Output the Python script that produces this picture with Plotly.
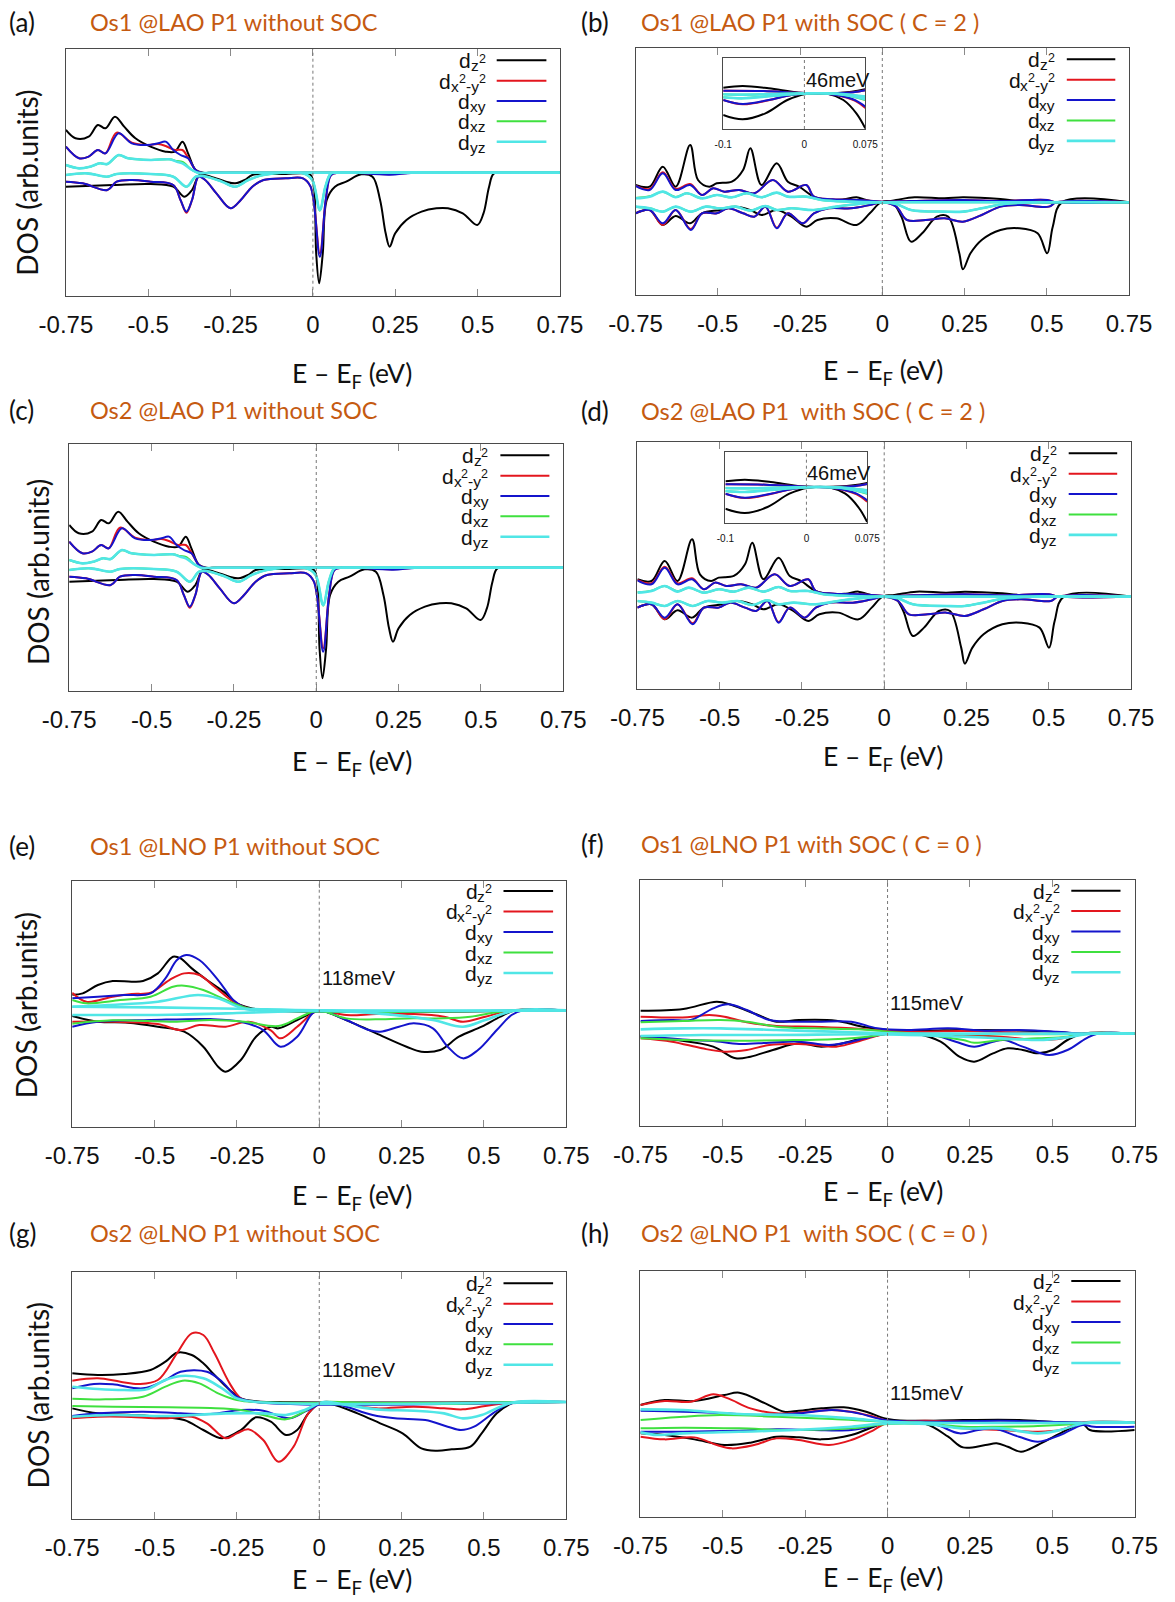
import plotly.graph_objects as go

W, H = 1175, 1602

# ---------------- tick labels / text ----------------
tick_vals = [-0.75, -0.5, -0.25, 0, 0.25, 0.5, 0.75]
tick_text = ["-0.75", "-0.5", "-0.25", "0", "0.25", "0.5", "0.75"]
inset_tick_vals = [-0.1, 0, 0.075]
inset_tick_text = ["-0.1", "0", "0.075"]

# legend labels built from pieces: (text, role) with role n / sub / sup
orbital_label_parts = [
    [("d", "n"), ("z", "sub"), ("2", "sup")],
    [("d", "n"), ("x", "sub"), ("2", "sup"), ("-y", "sub"), ("2", "sup")],
    [("d", "n"), ("xy", "sub")],
    [("d", "n"), ("xz", "sub")],
    [("d", "n"), ("yz", "sub")],
]
orbital_colors = ["#000000", "#e3161e", "#1414cc", "#3fe03f", "#50e6e6"]
orbital_widths = [2, 2, 2, 2, 2.6]

panel_letters = ["(a)", "(b)", "(c)", "(d)", "(e)", "(f)", "(g)", "(h)"]
panel_titles = ["Os1 @LAO P1 without SOC", "Os1 @LAO P1 with SOC ( C = 2 )",
                "Os2 @LAO P1 without SOC", "Os2 @LAO P1\u00a0 with SOC ( C = 2 )",
                "Os1 @LNO P1 without SOC", "Os1 @LNO P1 with SOC ( C = 0 )",
                "Os2 @LNO P1 without SOC", "Os2 @LNO P1\u00a0 with SOC ( C = 0 )"]
gap_labels = ["", "46meV", "", "46meV", "118meV", "115meV", "118meV", "115meV"]
x_title = "E \u2013 E<sub>F</sub> (eV)"
y_title = "DOS (arb.units)"

# ---------------- data: (E - EF [eV], DOS [arb.]) ----------------
# panel (a)  Os1 @LAO without SOC  (panel (c) shows the same curves)
a_dz2_up = [(-0.75,128),(-0.721,103),(-0.681,108),(-0.653,143),(-0.630,133),(-0.601,168),(-0.573,138),(-0.539,103),(-0.493,78),(-0.447,63),(-0.419,63),(-0.396,93),(-0.379,58),(-0.356,8),(-0.333,0),(-0.3,0),(0.75,0)]
a_dz2_dn = [(-0.75,-42),(-0.607,-37),(-0.493,-34),(-0.424,-42),(-0.39,-72),(-0.367,-52),(-0.344,-7),(-0.310,-12),(-0.264,-27),(-0.236,-32),(-0.207,-22),(-0.184,-7),(-0.082,-4),(-0.030,-2),(-0.007,-7),(0.003,-40),(0.010,-242),(0.019,-332),(0.030,-242),(0.042,-82),(0.067,-42),(0.101,-27),(0.147,-5),(0.181,-12),(0.204,-82),(0.221,-182),(0.233,-222),(0.250,-182),(0.284,-142),(0.330,-117),(0.375,-107),(0.410,-107),(0.455,-122),(0.499,-157),(0.518,-122),(0.535,-42),(0.550,-2),(0.6,0),(0.75,0)]
a_x2y2_up = [(-0.75,78),(-0.710,43),(-0.681,48),(-0.653,68),(-0.630,58),(-0.596,120),(-0.550,90),(-0.504,83),(-0.470,86),(-0.447,80),(-0.419,68),(-0.396,68),(-0.379,45),(-0.356,8),(-0.339,0),(-0.3,0),(0.75,0)]
a_x2y2_dn = [(-0.75,-27),(-0.699,-32),(-0.624,-52),(-0.596,-27),(-0.550,-22),(-0.493,-27),(-0.424,-37),(-0.402,-82),(-0.384,-120),(-0.367,-82),(-0.347,-12),(-0.327,-22),(-0.293,-62),(-0.250,-107),(-0.219,-82),(-0.184,-42),(-0.150,-22),(-0.082,-17),(-0.030,-17),(-0.007,-42),(0.021,-242),(0.039,-82),(0.055,-7),(0.078,0),(0.233,-5),(0.307,0),(0.75,0)]
a_dxy_up = [(-0.75,78),(-0.710,43),(-0.681,48),(-0.653,68),(-0.630,58),(-0.590,118),(-0.550,88),(-0.504,83),(-0.470,88),(-0.447,93),(-0.424,68),(-0.402,53),(-0.379,43),(-0.356,8),(-0.339,0),(-0.3,0),(0.75,0)]
a_dxy_dn = [(-0.75,-27),(-0.699,-32),(-0.624,-52),(-0.596,-27),(-0.550,-22),(-0.493,-27),(-0.424,-37),(-0.402,-82),(-0.384,-117),(-0.367,-82),(-0.347,-12),(-0.327,-22),(-0.293,-62),(-0.250,-107),(-0.219,-82),(-0.184,-42),(-0.150,-22),(-0.082,-17),(-0.030,-17),(-0.007,-42),(0.021,-252),(0.039,-82),(0.055,-7),(0.078,0),(0.233,-6),(0.307,0),(0.75,0)]
a_dxz_up = [(-0.75,23),(-0.710,13),(-0.676,18),(-0.647,28),(-0.624,26),(-0.590,52),(-0.561,43),(-0.493,38),(-0.436,40),(-0.413,35),(-0.396,32),(-0.367,8),(-0.350,0),(-0.3,0),(0.75,0)]
a_dxz_dn = [(-0.75,-7),(-0.687,-2),(-0.624,-12),(-0.596,-4),(-0.493,-4),(-0.424,-12),(-0.384,-42),(-0.356,-12),(-0.333,-10),(-0.276,-27),(-0.236,-42),(-0.196,-22),(-0.150,-7),(-0.030,-2),(-0.002,-22),(0.021,-114),(0.038,-42),(0.055,-2),(0.08,0),(0.75,0)]
a_dyz_up = [(-0.75,23),(-0.710,13),(-0.676,18),(-0.647,28),(-0.624,26),(-0.590,53),(-0.561,43),(-0.493,38),(-0.436,40),(-0.413,33),(-0.396,28),(-0.367,8),(-0.350,0),(-0.3,0),(0.75,0)]
a_dyz_dn = [(-0.75,-7),(-0.687,-2),(-0.624,-12),(-0.596,-4),(-0.493,-4),(-0.424,-12),(-0.384,-42),(-0.356,-12),(-0.333,-10),(-0.276,-27),(-0.236,-42),(-0.196,-22),(-0.150,-7),(-0.030,-2),(-0.002,-22),(0.021,-112),(0.038,-42),(0.055,-2),(0.08,0),(0.75,0)]

# panel (b)  Os1 @LAO with SOC  (panel (d) shows the same curves)
b_dz2_up = [(-0.75,52),(-0.707,47),(-0.667,107),(-0.628,47),(-0.584,172),(-0.560,67),(-0.526,47),(-0.503,57),(-0.457,62),(-0.423,97),(-0.401,162),(-0.367,52),(-0.321,117),(-0.287,62),(-0.253,47),(-0.208,17),(-0.163,7),(-0.117,9),(-0.078,15),(-0.049,7),(0.0,0),(0.042,7),(0.098,15),(0.189,12),(0.245,15),(0.359,10),(0.416,4),(0.472,0),(0.75,0)]
b_dz2_dn = [(-0.75,-33),(-0.707,-23),(-0.667,-68),(-0.628,-41),(-0.584,-63),(-0.548,-33),(-0.492,-23),(-0.446,-13),(-0.401,-23),(-0.367,-38),(-0.321,-23),(-0.276,-43),(-0.231,-73),(-0.197,-53),(-0.140,-48),(-0.078,-68),(-0.038,-33),(-0.004,0),(0.030,0),(0.058,-43),(0.087,-118),(0.121,-93),(0.166,-43),(0.200,-43),(0.234,-153),(0.245,-201),(0.268,-153),(0.302,-113),(0.359,-83),(0.416,-78),(0.472,-93),(0.501,-153),(0.518,-73),(0.546,0),(0.75,0)]
b_x2y2_up = [(-0.75,50),(-0.707,40),(-0.667,90),(-0.628,40),(-0.584,55),(-0.548,22),(-0.514,42),(-0.480,32),(-0.435,37),(-0.389,27),(-0.333,67),(-0.287,32),(-0.231,52),(-0.208,17),(-0.151,9),(-0.072,7),(0.0,2),(0.087,4),(0.245,7),(0.359,4),(0.501,7),(0.529,0),(0.75,0)]
b_x2y2_dn = [(-0.75,-33),(-0.707,-23),(-0.667,-68),(-0.628,-23),(-0.582,-80),(-0.548,-33),(-0.503,-33),(-0.469,-18),(-0.423,-33),(-0.389,-43),(-0.355,-13),(-0.321,-76),(-0.287,-33),(-0.242,-63),(-0.208,-33),(-0.163,-18),(-0.095,-18),(-0.038,-8),(0.0,0),(0.042,-13),(0.075,-53),(0.132,-53),(0.189,-48),(0.245,-58),(0.302,-38),(0.359,-13),(0.416,-8),(0.506,-13),(0.529,0),(0.75,0)]
b_dxy_up = [(-0.75,49),(-0.707,37),(-0.667,87),(-0.628,37),(-0.584,52),(-0.548,22),(-0.514,42),(-0.480,32),(-0.435,37),(-0.389,27),(-0.333,67),(-0.287,32),(-0.231,52),(-0.208,17),(-0.151,9),(-0.072,7),(0.0,2),(0.087,4),(0.245,7),(0.359,4),(0.501,7),(0.529,0),(0.75,0)]
b_dxy_dn = [(-0.75,-33),(-0.707,-23),(-0.667,-63),(-0.628,-23),(-0.582,-83),(-0.548,-33),(-0.503,-33),(-0.469,-18),(-0.423,-33),(-0.389,-43),(-0.355,-13),(-0.321,-78),(-0.287,-33),(-0.242,-63),(-0.208,-33),(-0.163,-18),(-0.095,-18),(-0.038,-8),(0.0,0),(0.042,-13),(0.075,-53),(0.132,-53),(0.189,-48),(0.245,-58),(0.302,-38),(0.359,-13),(0.416,-8),(0.506,-13),(0.529,0),(0.75,0)]
b_dxz_up = [(-0.75,13),(-0.707,18),(-0.667,32),(-0.628,16),(-0.594,27),(-0.548,12),(-0.503,22),(-0.457,15),(-0.412,27),(-0.367,15),(-0.321,29),(-0.287,17),(-0.231,17),(-0.185,7),(-0.095,2),(0.0,0),(0.75,0)]
b_dxz_dn = [(-0.75,-13),(-0.707,-18),(-0.667,-28),(-0.628,-13),(-0.582,-28),(-0.537,-13),(-0.492,-18),(-0.446,-13),(-0.401,-25),(-0.355,-11),(-0.321,-23),(-0.276,-18),(-0.208,-23),(-0.140,-13),(-0.072,-5),(0.0,0),(0.042,-5),(0.087,-23),(0.189,-28),(0.245,-28),(0.302,-18),(0.370,-5),(0.472,0),(0.75,0)]
b_dyz_up = [(-0.75,12),(-0.707,17),(-0.667,32),(-0.628,15),(-0.594,27),(-0.548,12),(-0.503,22),(-0.457,15),(-0.412,27),(-0.367,15),(-0.321,29),(-0.287,17),(-0.231,17),(-0.185,7),(-0.095,2),(0.0,0),(0.75,0)]
b_dyz_dn = [(-0.75,-13),(-0.707,-18),(-0.667,-28),(-0.628,-13),(-0.582,-28),(-0.537,-13),(-0.492,-18),(-0.446,-13),(-0.401,-25),(-0.355,-11),(-0.321,-23),(-0.276,-18),(-0.208,-23),(-0.140,-13),(-0.072,-5),(0.0,0),(0.042,-5),(0.087,-23),(0.189,-28),(0.245,-28),(0.302,-18),(0.370,-5),(0.472,0),(0.75,0)]

# inset of (b)/(d): zoom around EF
ins_dz2_up = [(-0.1,17),(-0.076,22),(-0.044,15),(-0.007,2),(0.021,0),(0.058,5),(0.075,12)]
ins_dz2_dn = [(-0.1,-65),(-0.076,-78),(-0.048,-60),(-0.021,-20),(0.002,-2),(0.030,-2),(0.048,-20),(0.064,-60),(0.075,-105)]
ins_x2y2_up = [(-0.1,8),(-0.05,7),(-0.01,2),(0.02,0),(0.06,3),(0.075,9)]
ins_x2y2_dn = [(-0.1,-20),(-0.076,-33),(-0.044,-21),(-0.016,-5),(0.012,0),(0.039,-5),(0.062,-22),(0.075,-44)]
ins_dxy_up = [(-0.1,8),(-0.05,7),(-0.01,2),(0.02,0),(0.06,3),(0.075,9)]
ins_dxy_dn = [(-0.1,-20),(-0.076,-32),(-0.044,-20),(-0.016,-5),(0.012,0),(0.039,-5),(0.062,-20),(0.075,-40)]
ins_dxz_up = [(-0.1,-3),(-0.076,-4),(-0.04,-2),(0.0,0),(0.04,-1),(0.075,-10)]
ins_dxz_dn = [(-0.1,-12),(-0.076,-15),(-0.04,-8),(-0.01,-2),(0.02,0),(0.05,-5),(0.075,-20)]
ins_dyz_up = [(-0.1,-3),(-0.076,-4),(-0.04,-2),(0.0,0),(0.04,-1),(0.075,-10)]
ins_dyz_dn = [(-0.1,-12),(-0.076,-15),(-0.04,-8),(-0.01,-2),(0.02,0),(0.05,-5),(0.075,-18)]

# panel (e)  Os1 @LNO without SOC
e_dz2_up = [(-0.75,47),(-0.718,51),(-0.672,76),(-0.627,88),(-0.569,86),(-0.535,88),(-0.490,111),(-0.444,161),(-0.421,156),(-0.387,126),(-0.341,91),(-0.284,51),(-0.250,21),(-0.204,6),(-0.147,0),(0.75,0)]
e_dz2_dn = [(-0.75,-17),(-0.672,-34),(-0.581,-37),(-0.490,-49),(-0.410,-64),(-0.352,-109),(-0.307,-169),(-0.284,-184),(-0.238,-149),(-0.192,-79),(-0.147,-49),(-0.124,-54),(-0.067,-29),(-0.021,-7),(0.0,0),(0.105,-39),(0.173,-69),(0.265,-109),(0.310,-124),(0.367,-119),(0.424,-79),(0.493,-49),(0.550,-19),(0.596,0),(0.75,0)]
e_x2y2_up = [(-0.75,53),(-0.707,26),(-0.627,41),(-0.569,49),(-0.512,53),(-0.455,91),(-0.410,111),(-0.364,106),(-0.318,71),(-0.261,26),(-0.215,6),(-0.170,0),(0.75,0)]
e_x2y2_dn = [(-0.75,-34),(-0.627,-34),(-0.490,-41),(-0.421,-59),(-0.364,-44),(-0.284,-49),(-0.215,-34),(-0.147,-60),(-0.118,-84),(-0.067,-49),(-0.021,-9),(0.0,0),(0.082,-14),(0.173,-11),(0.287,-11),(0.379,-19),(0.436,-34),(0.504,-19),(0.584,0),(0.75,0)]
e_dxy_up = [(-0.75,36),(-0.672,41),(-0.592,46),(-0.512,51),(-0.467,96),(-0.432,151),(-0.404,166),(-0.364,151),(-0.307,91),(-0.261,31),(-0.227,9),(-0.170,0),(0.75,0)]
e_dxy_dn = [(-0.75,-49),(-0.672,-34),(-0.512,-29),(-0.330,-26),(-0.238,-34),(-0.170,-59),(-0.118,-109),(-0.067,-79),(-0.021,-9),(0.0,0),(0.082,-29),(0.150,-59),(0.185,-64),(0.242,-49),(0.287,-39),(0.345,-54),(0.390,-109),(0.436,-144),(0.482,-119),(0.539,-59),(0.584,-14),(0.619,0),(0.75,0)]
e_dxz_up = [(-0.75,31),(-0.707,21),(-0.604,31),(-0.512,41),(-0.444,71),(-0.410,74),(-0.352,61),(-0.284,31),(-0.227,9),(-0.170,0),(0.75,0)]
e_dxz_dn = [(-0.75,-40),(-0.627,-30),(-0.432,-34),(-0.330,-29),(-0.227,-34),(-0.124,-47),(-0.067,-24),(-0.021,-4),(0.0,0),(0.082,-24),(0.173,-27),(0.287,-24),(0.379,-24),(0.459,-19),(0.527,-7),(0.584,0),(0.75,0)]
e_dyz_up = [(-0.75,11),(-0.641,16),(-0.490,26),(-0.368,46),(-0.307,36),(-0.247,11),(-0.216,3),(-0.15,0),(0.75,0)]
e_dyz_dn = [(-0.75,-14),(-0.45,-13),(-0.25,-8),(-0.1,-3),(0.0,0),(0.173,-9),(0.345,-29),(0.436,-49),(0.504,-29),(0.596,0),(0.75,0)]
e_dyz_flat = [(-0.75,11),(-0.5,9),(-0.25,5),(0.0,0),(0.75,0)]

# panel (f)  Os1 @LNO with SOC
f_dz2_up = [(-0.75,69),(-0.620,74),(-0.518,96),(-0.473,86),(-0.393,56),(-0.337,36),(-0.269,41),(-0.156,39),(-0.076,21),(0.003,11),(0.116,9),(0.229,11),(0.456,8),(0.569,1),(0.626,0),(0.75,0)]
f_dz2_dn = [(-0.75,-9),(-0.642,-19),(-0.529,-39),(-0.461,-74),(-0.416,-69),(-0.348,-49),(-0.269,-29),(-0.201,-39),(-0.144,-31),(-0.076,-14),(0.0,0),(0.093,-2),(0.161,-24),(0.218,-69),(0.263,-84),(0.320,-59),(0.365,-44),(0.410,-49),(0.456,-59),(0.501,-49),(0.546,-19),(0.592,0),(0.75,0)]
f_x2y2_up = [(-0.75,51),(-0.608,49),(-0.541,56),(-0.495,51),(-0.427,34),(-0.337,23),(-0.224,21),(-0.110,16),(0.003,9),(0.116,6),(0.229,8),(0.399,3),(0.512,0),(0.75,0)]
f_x2y2_dn = [(-0.75,-14),(-0.654,-24),(-0.563,-44),(-0.495,-54),(-0.427,-49),(-0.359,-34),(-0.269,-31),(-0.224,-34),(-0.156,-39),(-0.110,-29),(-0.042,-9),(0.0,0),(0.229,-4),(0.342,-9),(0.456,-19),(0.512,-17),(0.603,0),(0.75,0)]
f_dxy_up = [(-0.75,38),(-0.654,41),(-0.597,41),(-0.529,76),(-0.484,88),(-0.427,71),(-0.359,41),(-0.224,36),(-0.110,36),(-0.031,16),(0.059,11),(0.184,16),(0.297,9),(0.399,11),(0.512,6),(0.592,0),(0.75,0)]
f_dxy_dn = [(-0.75,-7),(-0.597,-19),(-0.529,-22),(-0.450,-31),(-0.359,-27),(-0.269,-24),(-0.178,-34),(-0.110,-24),(-0.042,-7),(0.0,0),(0.139,-4),(0.207,-24),(0.263,-39),(0.320,-24),(0.354,-19),(0.410,-39),(0.490,-64),(0.546,-49),(0.603,-14),(0.637,0),(0.75,0)]
f_dxz_up = [(-0.75,34),(-0.620,38),(-0.507,41),(-0.427,36),(-0.337,21),(-0.224,16),(-0.088,13),(0.003,6),(0.116,0),(0.75,0)]
f_dxz_dn = [(-0.75,-14),(-0.620,-19),(-0.450,-21),(-0.269,-19),(-0.167,-17),(-0.042,-7),(0.0,0),(0.116,-4),(0.229,-19),(0.263,-27),(0.342,-19),(0.456,-14),(0.546,-9),(0.614,0),(0.75,0)]
f_dyz_up = [(-0.75,13),(-0.620,16),(-0.507,16),(-0.337,11),(-0.167,6),(0.0,1),(0.116,0),(0.75,0)]
f_dyz_dn = [(-0.75,-7),(-0.563,-4),(-0.337,-4),(0.0,-2),(0.229,-9),(0.342,-14),(0.456,-19),(0.546,-11),(0.614,0),(0.75,0)]

# panel (g)  Os2 @LNO without SOC
g_dz2_up = [(-0.75,86),(-0.672,81),(-0.592,84),(-0.512,96),(-0.467,121),(-0.432,148),(-0.387,141),(-0.352,116),(-0.318,81),(-0.272,36),(-0.238,11),(-0.192,2),(-0.147,0),(0.75,0)]
g_dz2_dn = [(-0.75,-19),(-0.672,-34),(-0.569,-39),(-0.490,-44),(-0.410,-54),(-0.352,-84),(-0.295,-109),(-0.238,-84),(-0.192,-46),(-0.147,-59),(-0.101,-99),(-0.067,-84),(-0.033,-34),(0.002,-4),(0.036,-6),(0.116,-34),(0.185,-64),(0.253,-94),(0.310,-139),(0.356,-146),(0.402,-142),(0.459,-134),(0.493,-94),(0.539,-34),(0.584,-4),(0.607,0),(0.75,0)]
g_x2y2_up = [(-0.75,64),(-0.672,71),(-0.604,61),(-0.547,54),(-0.490,66),(-0.432,146),(-0.387,206),(-0.352,201),(-0.318,146),(-0.272,56),(-0.238,11),(-0.192,0),(0.75,0)]
g_x2y2_dn = [(-0.75,-49),(-0.672,-44),(-0.592,-44),(-0.467,-49),(-0.387,-44),(-0.341,-64),(-0.284,-109),(-0.250,-94),(-0.215,-82),(-0.170,-114),(-0.124,-179),(-0.078,-134),(-0.033,-34),(0.013,0),(0.082,-9),(0.173,-19),(0.287,-14),(0.379,-19),(0.436,-22),(0.504,-12),(0.596,0),(0.75,0)]
g_dxy_up = [(-0.75,41),(-0.684,54),(-0.627,53),(-0.535,41),(-0.467,66),(-0.421,91),(-0.341,91),(-0.295,61),(-0.250,16),(-0.192,0),(0.75,0)]
g_dxy_dn = [(-0.75,-42),(-0.672,-34),(-0.535,-29),(-0.421,-34),(-0.330,-36),(-0.238,-24),(-0.170,-26),(-0.090,-49),(-0.044,-29),(0.002,-6),(0.025,0),(0.082,-14),(0.162,-39),(0.230,-49),(0.322,-54),(0.390,-74),(0.430,-84),(0.470,-74),(0.527,-34),(0.573,-6),(0.607,0),(0.75,0)]
g_dxz_up = [(-0.75,10),(-0.649,8),(-0.535,16),(-0.467,46),(-0.415,64),(-0.364,56),(-0.307,26),(-0.250,6),(-0.192,0),(0.75,0)]
g_dxz_dn = [(-0.75,-12),(-0.627,-14),(-0.455,-16),(-0.330,-18),(-0.238,-24),(-0.170,-39),(-0.101,-52),(-0.055,-34),(-0.010,-6),(0.013,0),(0.173,-4),(0.402,-6),(0.516,-2),(0.607,0),(0.75,0)]
g_dyz_up = [(-0.75,46),(-0.672,39),(-0.592,36),(-0.524,38),(-0.467,66),(-0.421,78),(-0.352,71),(-0.295,41),(-0.250,11),(-0.192,0),(0.75,0)]
g_dyz_dn = [(-0.75,-44),(-0.627,-39),(-0.455,-42),(-0.284,-34),(-0.170,-34),(-0.101,-39),(-0.044,-24),(0.013,0),(0.082,-9),(0.173,-22),(0.287,-26),(0.379,-34),(0.436,-49),(0.493,-39),(0.550,-14),(0.596,0),(0.75,0)]

# panel (h)  Os2 @LNO with SOC
h_dz2_up = [(-0.75,53),(-0.676,68),(-0.586,65),(-0.495,83),(-0.450,90),(-0.371,58),(-0.314,33),(-0.269,36),(-0.201,43),(-0.133,46),(-0.065,33),(-0.008,13),(0.059,6),(0.229,8),(0.399,8),(0.512,2),(0.592,0),(0.75,0)]
h_dz2_dn = [(-0.75,-32),(-0.676,-37),(-0.586,-50),(-0.495,-67),(-0.416,-60),(-0.337,-42),(-0.269,-44),(-0.201,-50),(-0.110,-37),(-0.042,-12),(0.0,0),(0.116,-4),(0.184,-42),(0.229,-74),(0.297,-67),(0.331,-62),(0.365,-72),(0.405,-87),(0.456,-67),(0.524,-32),(0.592,-4),(0.614,-22),(0.75,-22)]
h_x2y2_up = [(-0.75,53),(-0.676,65),(-0.597,63),(-0.529,85),(-0.484,73),(-0.416,43),(-0.337,28),(-0.269,30),(-0.178,38),(-0.110,33),(-0.042,18),(0.003,6),(0.116,6),(0.229,3),(0.342,0),(0.75,0)]
h_x2y2_dn = [(-0.75,-42),(-0.676,-50),(-0.586,-44),(-0.518,-67),(-0.473,-77),(-0.405,-67),(-0.337,-47),(-0.269,-52),(-0.178,-67),(-0.110,-52),(-0.042,-22),(0.0,0),(0.116,-2),(0.229,-17),(0.342,-22),(0.456,-27),(0.524,-22),(0.592,0),(0.75,0)]
h_dxy_up = [(-0.75,36),(-0.620,33),(-0.495,28),(-0.393,23),(-0.269,28),(-0.167,38),(-0.088,28),(-0.008,8),(0.116,3),(0.342,6),(0.512,2),(0.592,0),(0.75,0)]
h_dxy_dn = [(-0.75,-27),(-0.620,-27),(-0.450,-24),(-0.337,-20),(-0.224,-22),(-0.110,-22),(-0.031,-7),(0.0,0),(0.139,-4),(0.218,-32),(0.275,-22),(0.320,-17),(0.399,-42),(0.456,-57),(0.524,-37),(0.592,-7),(0.626,-12),(0.75,-12)]
h_dxz_up = [(-0.75,8),(-0.620,18),(-0.507,23),(-0.337,18),(-0.167,11),(0.0,3),(0.116,0),(0.75,0)]
h_dxz_dn = [(-0.75,-17),(-0.620,-15),(-0.450,-17),(-0.280,-22),(-0.110,-17),(0.0,-4),(0.116,-4),(0.229,-12),(0.342,-12),(0.456,-10),(0.569,-4),(0.603,0),(0.75,0)]
h_dyz_up = [(-0.75,40),(-0.620,38),(-0.450,26),(-0.280,23),(-0.110,13),(0.0,3),(0.116,0),(0.75,0)]
h_dyz_dn = [(-0.75,-29),(-0.699,-37),(-0.620,-32),(-0.450,-27),(-0.280,-22),(-0.110,-12),(0.0,-2),(0.116,-4),(0.229,-17),(0.342,-17),(0.456,-32),(0.524,-22),(0.603,0),(0.75,0)]

a_set = [(a_dz2_up, a_dz2_dn), (a_x2y2_up, a_x2y2_dn), (a_dxy_up, a_dxy_dn), (a_dxz_up, a_dxz_dn), (a_dyz_up, a_dyz_dn)]
b_set = [(b_dz2_up, b_dz2_dn), (b_x2y2_up, b_x2y2_dn), (b_dxy_up, b_dxy_dn), (b_dxz_up, b_dxz_dn), (b_dyz_up, b_dyz_dn)]
e_set = [(e_dz2_up, e_dz2_dn), (e_x2y2_up, e_x2y2_dn), (e_dxy_up, e_dxy_dn), (e_dxz_up, e_dxz_dn), (e_dyz_up, e_dyz_dn, e_dyz_flat)]
f_set = [(f_dz2_up, f_dz2_dn), (f_x2y2_up, f_x2y2_dn), (f_dxy_up, f_dxy_dn), (f_dxz_up, f_dxz_dn), (f_dyz_up, f_dyz_dn)]
g_set = [(g_dz2_up, g_dz2_dn), (g_x2y2_up, g_x2y2_dn), (g_dxy_up, g_dxy_dn), (g_dxz_up, g_dxz_dn), (g_dyz_up, g_dyz_dn)]
h_set = [(h_dz2_up, h_dz2_dn), (h_x2y2_up, h_x2y2_dn), (h_dxy_up, h_dxy_dn), (h_dxz_up, h_dxz_dn), (h_dyz_up, h_dyz_dn)]
ins_set = [(ins_dz2_up, ins_dz2_dn), (ins_x2y2_up, ins_x2y2_dn), (ins_dxy_up, ins_dxy_dn), (ins_dxz_up, ins_dxz_dn), (ins_dyz_up, ins_dyz_dn)]
panel_sets = [a_set, b_set, a_set, b_set, e_set, f_set, g_set, h_set]

# ---------------- layout geometry (page pixels) ----------------
frames = [(65.9, 559.9, 49.3, 295.7), (635.5, 1129.1, 48.3, 295), (69.2, 563.3, 444, 691),
          (637.4, 1131, 442.3, 689.3), (72.2, 566.3, 880.7, 1126.7), (640.4, 1134.7, 880, 1126),
          (72.2, 566.3, 1271.7, 1519), (640.4, 1134.7, 1270.7, 1516.7)]
yranges = [(-369, 370), (-278, 462), (-370, 371), (-278, 463), (-349, 389), (-277, 461), (-351, 391), (-282, 456)]
# (text right edge, sample x0, sample x1, first row y, row spacing)
legend_geo = [(484.6, 496.7, 546.4, 60.3, 20.35), (1053.8, 1066.8, 1115.3, 59.3, 20.4),
              (487.3, 500.4, 549.4, 455.3, 20.35), (1055.6, 1068.7, 1117.2, 453.3, 20.4),
              (491, 503.5, 553.1, 891, 20.5), (1058.6, 1071.3, 1120.5, 890.7, 20.4),
              (491, 503.5, 553.1, 1283.3, 20.35), (1058.6, 1071.3, 1120.5, 1281, 20.5)]
title_pos = [(89.2, 21.7), (639.6, 21.7), (89.2, 410), (639.6, 410.7), (89.2, 846), (639.6, 844), (89.2, 1233.3), (639.6, 1233.3)]
letter_pos = [(7.5, 21.7), (580, 21.7), (7.5, 410), (580, 410.7), (7.5, 846), (580, 844), (7.5, 1233.3), (580, 1233.3)]
xtitle_pos = [(351.8, 375), (882.9, 371.7), (351.8, 763.3), (882.9, 758.3), (351.8, 1197), (882.9, 1193.3), (351.8, 1581), (882.9, 1578.5)]
ytitle_pos = {0: (26.3, 182.5), 2: (37.6, 572.5), 4: (26.3, 1005), 6: (37.6, 1395.8)}
gap_pos = [None, (804.5, 80), None, (806.4, 473.3), (320.5, 978.3), (888.5, 1003.3), (320.5, 1370), (888.5, 1393.3)]
insets = {1: (723.2, 865.3, 58.3, 129), 3: (725.4, 867.2, 452, 522.7)}
inset_yrange = (-107, 105)

FRAME = "#4a4a4a"
TITLE_COLOR = "#c55a11"
SANS = "Liberation Sans, Arial, sans-serif"
CAL = "Lato, Carlito, sans-serif"
CHAR_W = {"d": 0.556, "x": 0.5, "y": 0.5, "z": 0.5, "-": 0.333, "2": 0.556}
PIECE_SIZE = {"n": 21, "sub": 15.5, "sup": 12.5}
PIECE_DY = {"n": 0.5, "sub": 5.5, "sup": -1.8}


def fx(v):
    return v / W


def fy(v):
    return 1 - v / H


fig = go.Figure()
layout = {}
shapes = []
annotations = []


def add_curves(series_set, xa, ya):
    for k, curves in enumerate(series_set):
        for curve in curves:
            fig.add_trace(go.Scatter(
                x=[p[0] for p in curve], y=[p[1] for p in curve], mode="lines",
                line=dict(color=orbital_colors[k], width=orbital_widths[k], shape="spline", smoothing=1.0),
                xaxis=xa, yaxis=ya, showlegend=False, hoverinfo="skip"))


def add_label(parts, right, yline):
    widths = [sum(CHAR_W[c] for c in t) * PIECE_SIZE[r] for t, r in parts]
    x = right - sum(widths)
    for (t, r), w in zip(parts, widths):
        annotations.append(dict(text=t, xref="paper", yref="paper", x=fx(x), y=fy(yline + PIECE_DY[r]),
                                xanchor="left", yanchor="middle", showarrow=False, borderpad=0,
                                font=dict(family=SANS, size=PIECE_SIZE[r], color="#111")))
        x += w


axis_no = 0
for i in range(8):
    axis_no += 1
    n = axis_no
    xa = "x" if n == 1 else f"x{n}"
    ya = "y" if n == 1 else f"y{n}"
    l, r, t, b = frames[i]
    add_curves(panel_sets[i], xa, ya)
    layout["xaxis" if n == 1 else f"xaxis{n}"] = dict(
        domain=[fx(l), fx(r)], anchor=ya, range=[-0.75, 0.75], showgrid=False, zeroline=False,
        automargin=False, showline=True, linecolor=FRAME, linewidth=1, mirror="allticks",
        ticks="inside", ticklen=7, tickcolor="#8a8a8a", tickwidth=1, tickvals=tick_vals,
        ticktext=tick_text, tickfont=dict(family=SANS, size=24, color="#111"), ticklabelstandoff=7)
    layout["yaxis" if n == 1 else f"yaxis{n}"] = dict(
        domain=[fy(b), fy(t)], anchor=xa, range=list(yranges[i]), showgrid=False, zeroline=False,
        automargin=False, showline=True, linecolor=FRAME, linewidth=1, mirror=True, ticks="",
        showticklabels=False)
    shapes.append(dict(type="line", xref=xa, yref=f"{ya} domain", x0=0, x1=0, y0=0, y1=1,
                       line=dict(color="#777", width=1, dash="dot")))
    # legend
    tr, lx0, lx1, ly0, dy = legend_geo[i]
    for k in range(5):
        yy = ly0 + k * dy
        shapes.append(dict(type="line", xref="paper", yref="paper", x0=fx(lx0), x1=fx(lx1), y0=fy(yy), y1=fy(yy),
                           line=dict(color=orbital_colors[k], width=orbital_widths[k])))
        add_label(orbital_label_parts[k], tr, yy)
    # titles
    annotations.append(dict(text=panel_titles[i], xref="paper", yref="paper", x=fx(title_pos[i][0]),
                            y=fy(title_pos[i][1]), xanchor="left", yanchor="middle", showarrow=False,
                            borderpad=0, font=dict(family=CAL, size=23.5, color=TITLE_COLOR)))
    annotations.append(dict(text=panel_letters[i], xref="paper", yref="paper", x=fx(letter_pos[i][0]),
                            y=fy(letter_pos[i][1]), xanchor="left", yanchor="middle", showarrow=False,
                            borderpad=0, font=dict(family=CAL, size=26, color="#111")))
    annotations.append(dict(text=x_title, xref="paper", yref="paper", x=fx(xtitle_pos[i][0]),
                            y=fy(xtitle_pos[i][1]), xanchor="center", yanchor="middle", showarrow=False,
                            borderpad=0, font=dict(family=CAL, size=26.5, color="#111")))
    if i in ytitle_pos:
        annotations.append(dict(text=y_title, xref="paper", yref="paper", x=fx(ytitle_pos[i][0]),
                                y=fy(ytitle_pos[i][1]), xanchor="center", yanchor="middle", textangle=-90,
                                showarrow=False, font=dict(family=CAL, size=28, color="#111")))
    if gap_pos[i] is not None:
        annotations.append(dict(text=gap_labels[i], xref="paper", yref="paper", x=fx(gap_pos[i][0]),
                                y=fy(gap_pos[i][1]), xanchor="left", yanchor="middle", showarrow=False,
                                borderpad=0, font=dict(family=SANS, size=20, color="#111")))

# insets
for i, (l, r, t, b) in insets.items():
    axis_no += 1
    n = axis_no
    xa, ya = f"x{n}", f"y{n}"
    add_curves(ins_set, xa, ya)
    layout[f"xaxis{n}"] = dict(
        domain=[fx(l), fx(r)], anchor=ya, range=[-0.1, 0.075], showgrid=False, zeroline=False,
        automargin=False, showline=True, linecolor=FRAME, linewidth=1, mirror=True, ticks="",
        tickvals=inset_tick_vals, ticktext=inset_tick_text,
        tickfont=dict(family=SANS, size=10, color="#111"), ticklabelstandoff=6)
    layout[f"yaxis{n}"] = dict(
        domain=[fy(b), fy(t)], anchor=xa, range=list(inset_yrange), showgrid=False, zeroline=False,
        automargin=False, showline=True, linecolor=FRAME, linewidth=1, mirror=True, ticks="",
        showticklabels=False)
    shapes.append(dict(type="line", xref=xa, yref=f"{ya} domain", x0=0, x1=0, y0=0, y1=1,
                       line=dict(color="#777", width=1, dash="dot")))

fig.update_layout(template="none", width=W, height=H, autosize=False,
                  margin=dict(l=0, r=0, t=0, b=0, pad=0, autoexpand=False),
                  paper_bgcolor="white", plot_bgcolor="white", showlegend=False, hovermode=False,
                  shapes=shapes, annotations=annotations, **layout)

fig.write_html("out.html", config={"displayModeBar": False},
               post_script="document.body.style.margin='0';document.body.style.overflow='hidden';")
